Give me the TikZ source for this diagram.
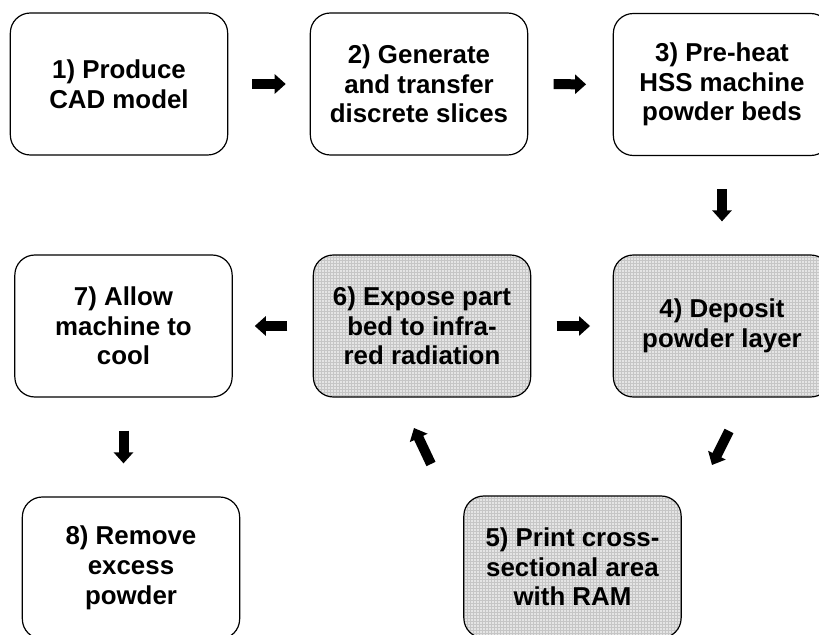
\documentclass[tikz,border=0pt]{standalone}
\usepackage{fontspec}
\setmainfont{Liberation Sans}
\usetikzlibrary{arrows.meta,calc}
\begin{document}
\begin{tikzpicture}[x=0.75pt,y=-0.75pt,
  stepbox/.style={draw=black,line width=0.9pt,rounded corners=15pt,
    minimum width=163pt,minimum height=106.5pt,align=center,inner sep=0pt,
    font=\bfseries\fontsize{19.4}{22.3}\selectfont},
  shadedbox/.style={fill=gray!20,
    path picture={\draw[gray!45,line width=0.3pt]
      (path picture bounding box.south west) grid[step=2.25pt]
      (path picture bounding box.north east);}},
  blk/.style={line width=7.5pt,-{Triangle[width=14.25pt,length=8.25pt]}}]
\useasboundingbox (0,0) rectangle (819,635);
\clip (0,0) rectangle (819,635);

\node[stepbox] (n1) at (119,84) {1) Produce\\CAD model};
\node[stepbox] (n2) at (419,84) {2) Generate\\and transfer\\discrete slices};
\node[stepbox] (n3) at (722,84.5) {3) Pre-heat\\HSS machine\\powder beds};
\node[stepbox,shadedbox] (n4) at (722,326) {4) Deposit\\powder layer};
\node[stepbox,shadedbox] (n6) at (422,326) {6) Expose part\\bed to infra-\\red radiation};
\node[stepbox] (n7) at (123.5,326) {7) Allow\\machine to\\cool};
\node[stepbox] (n8) at (131,568) {8) Remove\\excess\\powder};
\node[stepbox,shadedbox] (n5) at (572.5,567) {5) Print cross-\\sectional area\\with RAM};

\coordinate (a45s) at (729,431);
\coordinate (a45e) at (712,465);
\coordinate (a56s) at (431,464);
\coordinate (a56e) at (414,428);

\draw[blk,shorten <=18pt,shorten >=18pt] (n1.east) -- (n2.west);
\draw[blk,shorten <=19pt,shorten >=20pt] (n2.east) -- (n3.west);
\draw[blk,shorten <=24.75pt,shorten >=24.75pt] (n3.south) -- (n4.north);
\draw[blk,shorten <=19pt,shorten >=17pt] (n6.east) -- (n4.west);
\draw[blk,shorten <=19pt,shorten >=16.5pt] (n6.west) -- (n7.east);
\draw[blk,shorten <=24.75pt,shorten >=24.75pt] (n7.south) -- (n7.south |- n8.north);
\draw[blk] (a45s) -- (a45e);
\draw[blk] (a56s) -- (a56e);
\end{tikzpicture}
\end{document}
